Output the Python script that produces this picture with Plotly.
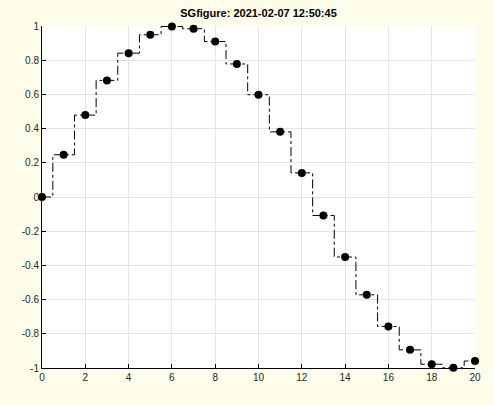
import plotly.graph_objects as go

x_vals = list(range(21))
y_vals = [0.0, 0.247, 0.479, 0.682, 0.841, 0.949, 0.997, 0.984, 0.909, 0.778,
          0.598, 0.381, 0.141, -0.108, -0.351, -0.572, -0.757, -0.894, -0.978, -0.999, -0.959]
x_ticks = list(range(0, 21, 2))
y_ticks = [-1, -0.8, -0.6, -0.4, -0.2, 0, 0.2, 0.4, 0.6, 0.8, 1]
y_labels = ["-1", "-0.8", "-0.6", "-0.4", "-0.2", "0", "0.2", "0.4", "0.6", "0.8", "1"]

fig = go.Figure()
fig.add_trace(go.Scatter(
    x=x_vals, y=y_vals, mode="lines",
    line=dict(color="black", width=1, dash="dashdot", shape="hvh"),
    hoverinfo="skip",
))
fig.add_trace(go.Scatter(
    x=x_vals, y=y_vals, mode="markers", cliponaxis=False,
    marker=dict(color="black", size=8),
))

axis_common = dict(
    showgrid=True, gridcolor="#e3e3e3", gridwidth=1,
    showline=True, linecolor="black", linewidth=1,
    ticks="inside", ticklen=4, tickcolor="black",
    tickfont=dict(family="Liberation Sans, Arial", size=10, color="#262626"),
    zeroline=False, mirror=False, automargin=False,
)
fig.update_xaxes(range=[0, 20], tickvals=x_ticks, **axis_common)
fig.update_yaxes(range=[-1, 1], tickvals=y_ticks, ticktext=y_labels, **axis_common)

fig.update_layout(
    width=494, height=405,
    margin=dict(l=42, r=19, t=26, b=37),
    paper_bgcolor="#fefde9",
    plot_bgcolor="white",
    showlegend=False,
    title=dict(text="<b>SGfigure: 2021-02-07 12:50:45</b>", x=0.5, xref="paper",
               y=1 - 13 / 405, yanchor="middle",
               font=dict(family="Liberation Sans, Arial", size=11, color="black")),
)

# drop the default page margin so the figure sits at the window corner
fig.write_html("out.html", config={"displayModeBar": False},
               post_script="document.body.style.margin='0';")
